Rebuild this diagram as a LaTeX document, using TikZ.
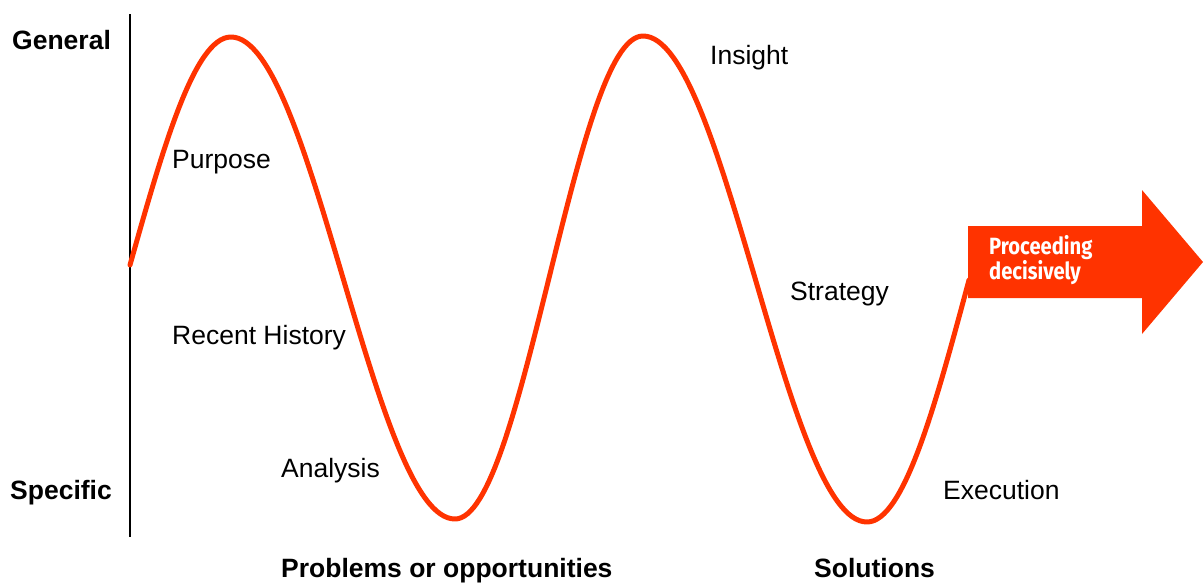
\documentclass[tikz,border=0pt]{standalone}
\usepackage{fontspec}
\setmainfont{Liberation Sans}
\newfontfamily\arrowfont[FakeStretch=0.86]{Fira Sans}
\definecolor{wavered}{HTML}{FF3300}
\begin{document}
\begin{tikzpicture}[x=1pt,y=-1pt,
  lbl/.style={anchor=base west,inner sep=0pt,font=\fontsize{26.5}{30}\selectfont},
  boldlbl/.style={lbl,font=\fontsize{26.5}{30}\selectfont\bfseries},
  arrowtxt/.style={anchor=base west,inner sep=0pt,text=white,font=\arrowfont\bfseries\fontsize{23.5}{26}\selectfont},
  wave/.style={draw=wavered,line width=5pt,line cap=round,line join=round}]
\useasboundingbox (0,0) rectangle (1203,582);

% vertical axis
\coordinate (axtop) at (130,14);
\coordinate (axbot) at (130,537);
\draw[line width=2pt] (axtop) -- (axbot);

% the wave
\coordinate (w0) at (130,265);
\coordinate (p1) at (231,37);
\coordinate (z1) at (343,278);
\coordinate (t1) at (455,519);
\coordinate (z2) at (549,278);
\coordinate (p2) at (643,36);
\coordinate (z3) at (755,278);
\coordinate (t2) at (867,522);
\coordinate (w9) at (969,280);
\draw[wave] (w0) sin (p1) cos (z1) sin (t1) cos (z2) sin (p2) cos (z3) sin (t2) cos (w9);

% arrow
\fill[wavered] (968,226) -- (1142,226) -- (1142,190) -- (1203,262)
  -- (1142,334) -- (1142,298) -- (968,298) -- cycle;
\node[arrowtxt] (arr1) at (989,254) {Proceeding};
\node[arrowtxt] (arr2) at (989,279) {decisively};

% axis labels
\node[boldlbl] (gen) at (12,49) {General};
\node[boldlbl] (spec) at (10,499) {Specific};
\node[boldlbl] (prob) at (281,577) {Problems or opportunities};
\node[boldlbl] (sol) at (814,577) {Solutions};

% stage labels
\node[lbl] (purp) at (172,168) {Purpose};
\node[lbl] (hist) at (172,344) {Recent History};
\node[lbl] (anal) at (281,477) {Analysis};
\node[lbl] (ins) at (710,64) {Insight};
\node[lbl] (strat) at (790,300) {Strategy};
\node[lbl] (exe) at (943,499) {Execution};
\end{tikzpicture}
\end{document}
